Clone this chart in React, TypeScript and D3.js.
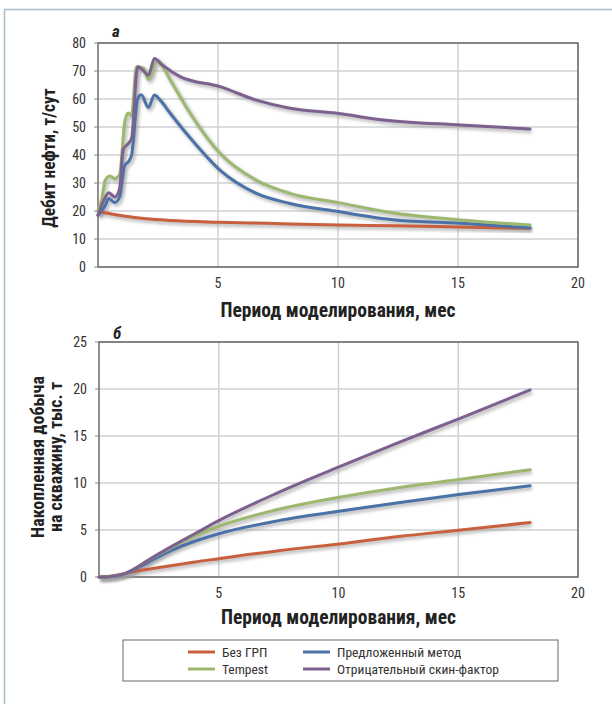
import React from "react";
import * as d3 from "d3";

// ---------- DATA ----------
const seriesNames = ["Без ГРП", "Предложенный метод", "Tempest", "Отрицательный скин-фактор"];
const seriesColors = ["#c8603e", "#4a72a8", "#9cb86e", "#7c6090"];

// Chart а: oil rate, t/day
const rateBaseT = [0, 0.5, 1, 2, 3, 5, 7, 10, 12.4, 15, 18];
const rateBaseV = [19.8, 19, 18.3, 17.2, 16.6, 16, 15.6, 15, 14.7, 14.3, 13.8];

const rateProposedT = [0, 0.3, 0.45, 0.7, 0.9, 1.1, 1.3, 1.4, 1.65, 1.8, 2.1, 2.35, 2.6, 3.0, 3.8, 5.08, 6.6, 8, 10, 12.4, 15.1, 18];
const rateProposedV = [18.5, 22, 24.5, 23, 25, 36, 38, 40, 60, 61.5, 57, 61.4, 59.5, 55, 46.5, 34.6, 26.3, 22.7, 19.8, 16.8, 15.6, 14];

const rateTempestT = [0, 0.15, 0.3, 0.5, 0.7, 0.9, 1.12, 1.26, 1.4, 1.6, 1.9, 2.1, 2.45, 2.6, 3.0, 3.83, 5.08, 6.6, 8, 10, 12.4, 15.1, 18];
const rateTempestV = [20, 24, 31, 32.5, 31.5, 33, 52, 55, 54, 71.5, 71, 67, 73.5, 72.7, 67, 55, 40.6, 31, 26.3, 23, 19.2, 16.8, 15];

const rateSkinT = [0, 0.25, 0.45, 0.7, 0.9, 1.05, 1.25, 1.4, 1.65, 1.85, 2.1, 2.35, 2.7, 3.42, 5.08, 6.6, 8, 9.95, 11.9, 15.1, 18];
const rateSkinV = [18.5, 24, 26.5, 25, 28, 42, 44, 46, 71.5, 70.5, 68.5, 74.5, 72, 68, 64.4, 59.6, 56.7, 54.9, 52.5, 50.7, 49.3];

// Chart б: cumulative production per well, thousand t
const cumT = [0, 0.5, 1, 1.5, 2, 3, 4, 5, 7.5, 10.3, 12.5, 15.1, 18];
const cumBase = [0, 0.08, 0.32, 0.6, 0.8, 1.2, 1.6, 1.95, 2.8, 3.6, 4.3, 5.0, 5.8];
const cumProposed = [0, 0.05, 0.25, 0.8, 1.5, 2.8, 3.8, 4.6, 6.0, 7.1, 7.9, 8.8, 9.7];
const cumTempest = [0, 0.05, 0.3, 0.9, 1.7, 3.1, 4.4, 5.4, 7.2, 8.6, 9.5, 10.4, 11.4];
const cumSkin = [0, 0.05, 0.3, 0.9, 1.7, 3.2, 4.6, 6.0, 9.0, 12.0, 14.3, 16.9, 19.9];

const xTicks = [5, 10, 15, 20];
const rateTicks = [0, 10, 20, 30, 40, 50, 60, 70, 80];
const cumTicks = [0, 5, 10, 15, 20, 25];

const xTitle = "Период моделирования, мес";
const rateTitle = "Дебит нефти, т/сут";
const cumTitle1 = "Накопленная добыча";
const cumTitle2 = "на скважину, тыс. т";

// ---------- STYLE ----------
const FONT = "'Liberation Sans Narrow', 'Arial Narrow', 'Roboto Condensed', 'Liberation Sans', Arial, sans-serif";

type Pt = [number, number];
const zip = (t: number[], v: number[]): Pt[] => t.map((x, i) => [x, v[i]]);

function Panel({
  x, y, series, yTicks, letter, letterY, titleY,
}: {
  x: d3.ScaleLinear<number, number>;
  y: d3.ScaleLinear<number, number>;
  series: Pt[][];
  yTicks: number[];
  letter: string;
  letterY: number;
  titleY: number;
}) {
  const line = d3
    .line<Pt>()
    .x((d) => x(d[0]))
    .y((d) => y(d[1]))
    .curve(d3.curveMonotoneX);
  const [x0, x1] = x.range();
  const [y0, y1] = y.range();
  return (
    <g>
      {yTicks.map((t) => (
        <line key={"h" + t} x1={x0} x2={x1} y1={y(t)} y2={y(t)} stroke="#cfd0d2" strokeWidth={1.5} />
      ))}
      {xTicks.map((t) => (
        <line key={"v" + t} x1={x(t)} x2={x(t)} y1={y0} y2={y1} stroke="#cfd0d2" strokeWidth={1.5} />
      ))}
      <rect x={x0} y={y1} width={x1 - x0} height={y0 - y1} fill="none" stroke="#555" strokeWidth={1.3} />
      {yTicks.map((t) => (
        <line key={"tk" + t} x1={x0 - 4} x2={x0} y1={y(t)} y2={y(t)} stroke="#888" strokeWidth={1} />
      ))}
      {series.map((s, i) => (
        <path key={"sh" + i} d={line(s) || ""} fill="none" stroke="#999" strokeOpacity={0.55} strokeWidth={4.5}
          transform="translate(1.8,2.2)" filter="url(#blur)" />
      ))}
      {series.map((s, i) => (
        <path key={"s" + i} d={line(s) || ""} fill="none" stroke={seriesColors[i]} strokeWidth={3} strokeLinejoin="round" strokeLinecap="round" />
      ))}
      {yTicks.map((t) => (
        <text key={"yl" + t} x={x0 - 12} y={y(t) + 5} textAnchor="end" fontSize={14} fill="#333">
          {t}
        </text>
      ))}
      {xTicks.map((t) => (
        <text key={"xl" + t} x={x(t)} y={y0 + 21} textAnchor="middle" fontSize={14} fill="#333">
          {t}
        </text>
      ))}
      <text x={x0 + 14} y={letterY} fontSize={17} fontWeight="bold" fontStyle="italic" fill="#222">
        {letter}
      </text>
      <text x={(x0 + x1) / 2} y={titleY} textAnchor="middle" fontSize={19.5} fontWeight="bold" fill="#222">
        {xTitle}
      </text>
    </g>
  );
}

export default function App() {
  const xTop = d3.scaleLinear().domain([0, 20]).range([98, 578]);
  const yTop = d3.scaleLinear().domain([0, 80]).range([267, 43]);
  const xBot = d3.scaleLinear().domain([0, 20]).range([99, 578]);
  const yBot = d3.scaleLinear().domain([0, 25]).range([577, 342]);

  const topSeries = [
    zip(rateBaseT, rateBaseV),
    zip(rateProposedT, rateProposedV),
    zip(rateTempestT, rateTempestV),
    zip(rateSkinT, rateSkinV),
  ];
  const botSeries = [
    zip(cumT, cumBase),
    zip(cumT, cumProposed),
    zip(cumT, cumTempest),
    zip(cumT, cumSkin),
  ];

  const legendItems = [
    { i: 0, x: 188, y: 652 },
    { i: 1, x: 303, y: 652 },
    { i: 2, x: 188, y: 669 },
    { i: 3, x: 303, y: 669 },
  ];

  return (
    <svg width={612} height={704} style={{ position: "absolute", left: 0, top: 0, background: "#fff" }} fontFamily={FONT}>
      <defs>
        <filter id="blur" x="-10%" y="-10%" width="120%" height="120%">
          <feGaussianBlur stdDeviation={1.5} />
        </filter>
      </defs>
      <rect x={0} y={0} width={612} height={704} fill="#fff" />
      <path d="M4.5,704 L4.5,9.5 L612,9.5" fill="none" stroke="#a7bdca" strokeWidth={1.5} />

      <Panel x={xTop} y={yTop} series={topSeries} yTicks={rateTicks} letter="а" letterY={37} titleY={317} />
      <text transform="translate(55,158) rotate(-90)" textAnchor="middle" fontSize={17.5} fontWeight="bold" fill="#222">
        {rateTitle}
      </text>

      <Panel x={xBot} y={yBot} series={botSeries} yTicks={cumTicks} letter="б" letterY={339} titleY={624} />
      <text transform="translate(44,457) rotate(-90)" textAnchor="middle" fontSize={18} fontWeight="bold" fill="#222">
        {cumTitle1}
      </text>
      <text transform="translate(62,457) rotate(-90)" textAnchor="middle" fontSize={18} fontWeight="bold" fill="#222">
        {cumTitle2}
      </text>

      <rect x={123} y={640} width={435} height={41} fill="#fff" stroke="#666" strokeWidth={1} />
      {legendItems.map(({ i, x, y }) => (
        <g key={"lg" + i}>
          <line x1={x} x2={x + 27} y1={y} y2={y} stroke={seriesColors[i]} strokeWidth={3} />
          <text x={x + 34} y={y + 4.5} fontSize={13.5} fill="#333">
            {seriesNames[i]}
          </text>
        </g>
      ))}
    </svg>
  );
}
